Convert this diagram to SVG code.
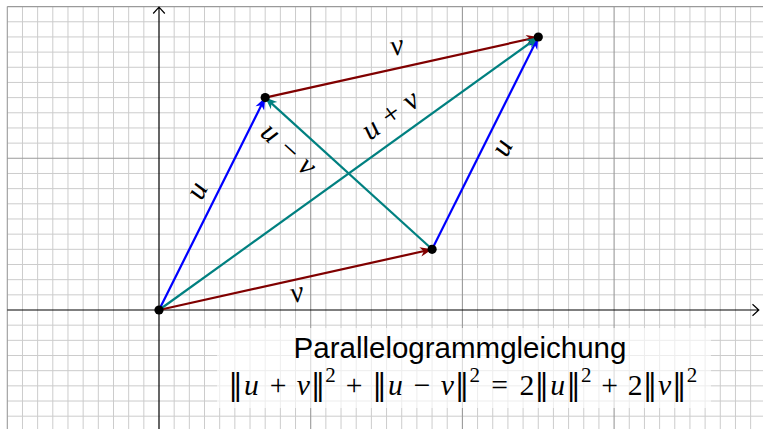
<svg xmlns="http://www.w3.org/2000/svg" width="763" height="429" viewBox="0 0 763 429">
<style>
.minor{stroke:#cccccc;stroke-width:1;fill:none}
.major{stroke:#9a9a9a;stroke-width:1.1;fill:none}
.axis{stroke:#000;stroke-width:1.2;fill:none}
.vec{stroke-width:2.2;fill:none}
.lbl{font-family:"Liberation Serif","DejaVu Serif",serif;font-style:italic;font-size:30px;fill:#000}
.title{font-family:"Liberation Sans",Arial,sans-serif;font-size:29.5px;fill:#000}
.math{font-family:"Liberation Serif","DejaVu Serif",serif;font-size:29.7px;fill:#000;text-anchor:middle}
.it{font-style:italic}
.sup{font-size:21px}
.nrm{font-family:"DejaVu Serif",serif;font-size:29px;fill:#000;text-anchor:middle}
.dot{fill:#000}
</style>
<defs>
<marker id="ab" viewBox="-13 -6 14 12" refX="0" refY="0" markerWidth="14" markerHeight="12" markerUnits="userSpaceOnUse" orient="auto"><path d="M0,0 L-12,-4.8 L-8.5,0 L-12,4.8 Z" fill="#0000ff"/></marker>
<marker id="ar" viewBox="-13 -6 14 12" refX="0" refY="0" markerWidth="14" markerHeight="12" markerUnits="userSpaceOnUse" orient="auto"><path d="M0,0 L-12,-4.8 L-8.5,0 L-12,4.8 Z" fill="#800000"/></marker>
<marker id="at" viewBox="-13 -6 14 12" refX="0" refY="0" markerWidth="14" markerHeight="12" markerUnits="userSpaceOnUse" orient="auto"><path d="M0,0 L-12,-4.8 L-8.5,0 L-12,4.8 Z" fill="#008080"/></marker>
</defs>
<rect width="763" height="429" fill="#fff"/>
<g id="grid">
<path class="minor" d="M22.47,6.6V429M37.64,6.6V429M52.81,6.6V429M67.98,6.6V429M83.15,6.6V429M98.32,6.6V429M113.49,6.6V429M128.66,6.6V429M143.83,6.6V429M174.17,6.6V429M189.34,6.6V429M204.51,6.6V429M219.68,6.6V429M234.85,6.6V429M250.02,6.6V429M265.19,6.6V429M280.36,6.6V429M295.53,6.6V429M325.87,6.6V429M341.04,6.6V429M356.21,6.6V429M371.38,6.6V429M386.55,6.6V429M401.72,6.6V429M416.89,6.6V429M432.06,6.6V429M447.23,6.6V429M477.57,6.6V429M492.74,6.6V429M507.91,6.6V429M523.08,6.6V429M538.25,6.6V429M553.42,6.6V429M568.59,6.6V429M583.76,6.6V429M598.93,6.6V429M629.27,6.6V429M644.44,6.6V429M659.61,6.6V429M674.78,6.6V429M689.95,6.6V429M705.12,6.6V429M720.29,6.6V429M735.46,6.6V429M750.63,6.6V429"/>
<path class="minor" d="M7.3,21.77H763M7.3,36.94H763M7.3,52.11H763M7.3,67.28H763M7.3,82.45H763M7.3,97.62H763M7.3,112.79H763M7.3,127.96H763M7.3,143.13H763M7.3,173.47H763M7.3,188.64H763M7.3,203.81H763M7.3,218.98H763M7.3,234.15H763M7.3,249.32H763M7.3,264.49H763M7.3,279.66H763M7.3,294.83H763M7.3,325.17H763M7.3,340.34H763M7.3,355.51H763M7.3,370.68H763M7.3,385.85H763M7.3,401.02H763M7.3,416.19H763"/>
<path class="major" d="M7.3,6.6V429M310.7,6.6V429M462.4,6.6V429M614.1,6.6V429M7.3,6.6H763M7.3,158.3H763"/>
</g>
<g id="axes">
<path class="axis" d="M7.3,310H758.5M752.5,304.2L758.8,310L752.5,315.8"/>
<path class="axis" d="M159,429V7.5M153.2,13.5L159,7.2L164.8,13.5"/>
</g>
<g id="connectors">
<path class="vec" stroke="#0000ff" d="M159,310L265.2,97.6" marker-end="url(#ab)"/>
<path class="vec" stroke="#0000ff" d="M432.1,249.3L538.3,37" marker-end="url(#ab)"/>
<path class="vec" stroke="#800000" d="M159,310L432.1,249.3" marker-end="url(#ar)"/>
<path class="vec" stroke="#800000" d="M265.2,97.6L538.3,37" marker-end="url(#ar)"/>
<path class="vec" stroke="#008080" d="M159,310L538.3,37" marker-end="url(#at)"/>
<path class="vec" stroke="#008080" d="M432.1,249.3L265.2,97.6" marker-end="url(#at)"/>
</g>
<g id="node-O"><circle class="dot" cx="159" cy="310" r="4.6"/></g>
<g id="node-U"><circle class="dot" cx="265.2" cy="97.6" r="4.6"/></g>
<g id="node-V"><circle class="dot" cx="432.1" cy="249.3" r="4.6"/></g>
<g id="node-S"><circle class="dot" cx="538.3" cy="37" r="4.6"/></g>
<g id="labels">
<text class="lbl" text-anchor="middle" transform="translate(198,191) rotate(-63.4)" dy="8">u</text>
<text class="lbl" text-anchor="middle" transform="translate(503,148) rotate(-63.4)" dy="8">u</text>
<text class="lbl" text-anchor="middle" transform="translate(297,294) rotate(-12.5)" dy="8">v</text>
<text class="lbl" text-anchor="middle" transform="translate(397,47) rotate(-12.5)" dy="8">v</text>
<text class="lbl" text-anchor="middle" transform="translate(391,116) rotate(-35.75)" dy="8">u + v</text>
<text class="lbl" text-anchor="middle" transform="translate(288,150) rotate(42.3)" dy="8">u − v</text>
</g>
<g id="caption">
<rect x="217" y="328" width="494" height="80" fill="#fff" fill-opacity="0.65"/>
<text class="title" x="460" y="358" text-anchor="middle">Parallelogrammgleichung</text>
<text class="math" y="395"><tspan x="251.3" class="it">u</tspan><tspan x="278">+</tspan><tspan x="303.3" class="it">v</tspan><tspan x="330.6" y="382" class="sup">2</tspan><tspan x="354" y="395">+</tspan><tspan x="395.4" class="it">u</tspan><tspan x="422.1">−</tspan><tspan x="447.4" class="it">v</tspan><tspan x="474.7" y="382" class="sup">2</tspan><tspan x="499.7" y="395">=</tspan><tspan x="526.9">2</tspan><tspan x="557.7" class="it">u</tspan><tspan x="586.2" y="382" class="sup">2</tspan><tspan x="609.6" y="395">+</tspan><tspan x="635.1">2</tspan><tspan x="664.6" class="it">v</tspan><tspan x="691.9" y="382" class="sup">2</tspan></text>
<text class="nrm" y="395"><tspan x="235.4">‖</tspan><tspan x="317.9">‖</tspan><tspan x="379.5">‖</tspan><tspan x="462">‖</tspan><tspan x="541.7">‖</tspan><tspan x="573.6">‖</tspan><tspan x="649.9">‖</tspan><tspan x="679.2">‖</tspan></text>
</g>
</svg>
